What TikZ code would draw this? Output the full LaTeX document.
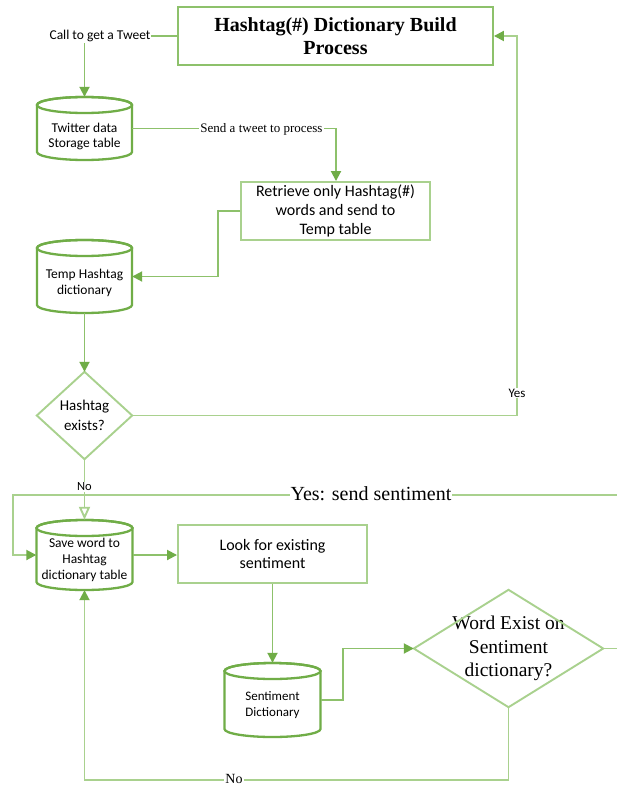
\documentclass[tikz,border=0pt]{standalone}
\usepackage{fontspec}
\setmainfont{Liberation Serif}
\newfontfamily\calfont{Carlito}
\usetikzlibrary{arrows.meta}

\definecolor{gdark}{HTML}{70AD47}
\definecolor{gmid}{HTML}{8DC16B}
\definecolor{glight}{HTML}{A9D18E}

\tikzset{
  conn/.style={draw=gmid, line width=1.9pt},
  connlight/.style={draw=glight, line width=1.9pt},
  arrowend/.style={-{Triangle[length=10pt,width=10pt,fill=gdark,color=gdark]}},
  openend/.style={-{Triangle[open,length=13pt,width=11pt,color=glight]}},
  procbox/.style={rectangle, draw=glight, line width=1.9pt, align=center, inner sep=0pt},
  decbox/.style={rectangle, draw=none, align=center, inner sep=0pt},
  decline/.style={draw=glight, line width=1.9pt},
  drumbox/.style={rectangle, draw=none, inner sep=0pt},
  drumline/.style={draw=gdark, line width=2.3pt},
  drumtext/.style={align=center, inner sep=0pt},
  lbl/.style={fill=white, inner sep=1pt}
}

% database drum: name, centre x, top y, width, height, text centre y, {size}{skip}, text
\newcommand{\dbdrum}[8]{%
  \pgfmathsetmacro{\drL}{#2-#4/2}%
  \pgfmathsetmacro{\drR}{#2+#4/2}%
  \pgfmathsetmacro{\drT}{#3+8}%
  \pgfmathsetmacro{\drB}{#3+#5-8}%
  \pgfmathsetmacro{\drRx}{#4/2}%
  \pgfmathsetmacro{\drC}{#3+#5/2}%
  \node[drumbox, minimum width=#4pt, minimum height=#5pt] (#1) at (#2,\drC) {};
  \draw[drumline, fill=white] (\drL,\drT) -- (\drL,\drB)
    arc[start angle=180, end angle=0, x radius=\drRx pt, y radius=8pt] -- (\drR,\drT)
    arc[start angle=0, end angle=-180, x radius=\drRx pt, y radius=8pt] -- cycle;
  \draw[drumline] (#2,\drT) ellipse[x radius=\drRx pt, y radius=8pt];
  \node[drumtext, font=\calfont\fontsize#7\selectfont] (#1-t) at (#2,#6) {#8};
}

\begin{document}
\begin{tikzpicture}[x=1pt, y=1pt, yscale=-1]
  \useasboundingbox[fill=white] (0,0) rectangle (616,786);

  % process boxes
  \node[procbox, draw=gmid, minimum width=315pt, minimum height=58pt,
        font=\bfseries\fontsize{20}{23}\selectfont] (title) at (335.5,36)
        {Hashtag(\#) Dictionary Build\\Process};
  \node[procbox, minimum width=189pt, minimum height=58pt,
        font=\calfont\fontsize{16}{19}\selectfont] (retr) at (335.5,211)
        {Retrieve only Hashtag(\#)\\words and send to\\Temp table};
  \node[procbox, minimum width=189pt, minimum height=58pt,
        font=\calfont\fontsize{16}{18.5}\selectfont] (look) at (272.5,554)
        {Look for existing\\sentiment};

  % decisions
  \node[decbox, minimum width=95pt, minimum height=87pt,
        font=\calfont\fontsize{15}{20}\selectfont] (hash) at (84.5,415.5)
        {Hashtag\\exists?};
  \draw[decline] (hash.north) -- (hash.east) -- (hash.south) -- (hash.west) -- cycle;
  \node[decbox, minimum width=189pt, minimum height=117pt,
        font=\fontsize{19.5}{23.5}\selectfont] (word) at (508.5,648.5)
        {Word Exist on\\Sentiment\\dictionary?};
  \draw[decline] (word.north) -- (word.east) -- (word.south) -- (word.west) -- cycle;

  % data stores
  \dbdrum{tw}{84.5}{97}{95}{63}{136.5}{{13.5}{15}}{Twitter data\\Storage table}
  \dbdrum{temp}{84.5}{240}{95}{73}{283}{{13.5}{16}}{Temp Hashtag\\dictionary}
  \dbdrum{save}{84.5}{520}{96}{70}{560}{{13.5}{16}}{Save word to\\Hashtag\\dictionary table}
  \dbdrum{senti}{272.5}{663}{96}{74}{705}{{13}{16}}{Sentiment\\Dictionary}

  % connectors
  \draw[conn, arrowend] (title.west) -- (84.5,36) -- (tw.north);
  \node[lbl, font=\calfont\fontsize{13.5}{15}\selectfont] (lcall) at (100,36) {Call to get a Tweet};

  \draw[conn, arrowend] (tw.east) -- (336,128.5) -- (retr.north -| 336,0);
  \node[lbl, font=\fontsize{13}{15}\selectfont] (lsend) at (261.5,129) {Send a tweet to process};

  \draw[conn, arrowend] (retr.west) -- (218,211) -- (218,276.5) -- (temp.east);

  \draw[conn, arrowend] (temp.south) -- (hash.north);

  \draw[connlight, arrowend] (hash.east) -- (517,415.5) -- (517,36) -- (title.east);
  \node[lbl, font=\calfont\fontsize{13}{15}\selectfont] (lyes) at (517,393) {Yes};

  \draw[connlight, openend] (hash.south) -- (save.north);
  \node[lbl, font=\calfont\fontsize{12.5}{14}\selectfont] (lno) at (84.5,487) {No};

  \draw[connlight, arrowend] (word.east) -- (640,648.5) -- (640,495) -- (13,495) -- (13,555) -- (save.west);
  \node[lbl, font=\fontsize{20}{24}\selectfont] (lsendsent) at (371,494) {Yes: send sentiment};

  \draw[conn, arrowend] (save.east) -- (look.west |- save.east);

  \draw[conn, arrowend] (look.south) -- (senti.north);

  \draw[conn, arrowend] (senti.east) -- (343,700) -- (343,648.5) -- (word.west);

  \draw[connlight, arrowend] (word.south) -- (508.5,780) -- (84.5,780) -- (save.south);
  \node[lbl, font=\fontsize{14}{16}\selectfont, inner ysep=0pt] (lnob) at (234,778.5) {No};
\end{tikzpicture}
\end{document}
